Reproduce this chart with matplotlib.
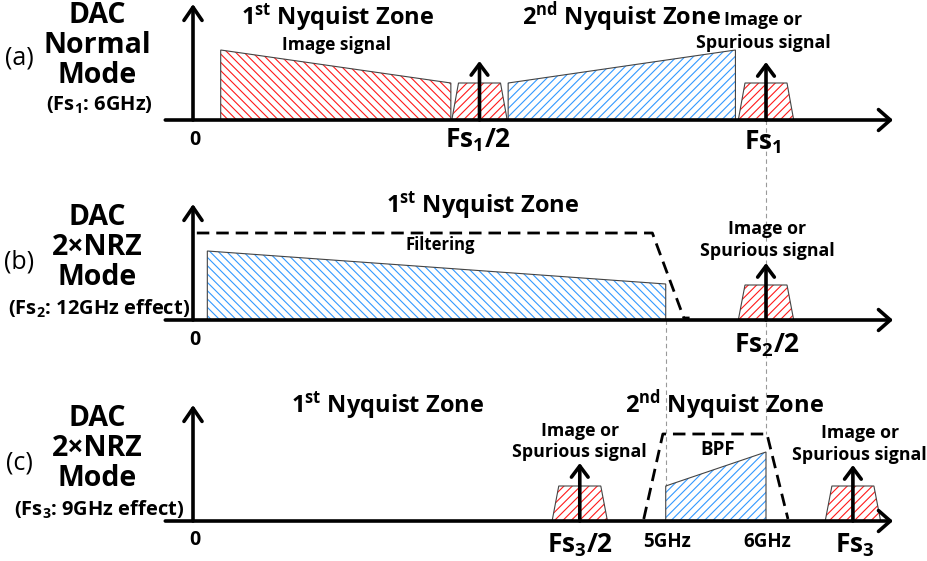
import matplotlib.pyplot as plt
from matplotlib.patches import Polygon

plt.rcParams['font.family'] = ['Open Sans', 'DejaVu Sans']
plt.rcParams['font.weight'] = 'bold'
plt.rcParams['mathtext.fontset'] = 'custom'
plt.rcParams['mathtext.rm'] = 'Open Sans:bold'
plt.rcParams['mathtext.bf'] = 'Open Sans:bold'
plt.rcParams['mathtext.it'] = 'Open Sans:bold'
plt.rcParams['mathtext.default'] = 'rm'
plt.rcParams['hatch.linewidth'] = 0.8

RED = '#ff1a1a'
BLUE = '#3399ff'

# frequency (GHz, schematic) and levels
# (a) normal mode, Fs1 = 6 GHz
a_img_f = [0.29, 2.70]       # image signal, 1st zone
a_img_lv = [70, 37]
a_sig_f = [3.30, 5.68]       # signal, 2nd zone
a_sig_lv = [37, 70]
a_spur_f = [3.0, 6.0]
a_spur_lv = [37, 37]
a_arrow_lv = [59, 58]

# (b) 2xNRZ, Fs2 = 12 GHz effect
b_sig_f = [0.15, 4.95]
b_sig_lv = [69, 36]
b_filt_f = [0.04, 4.81, 5.14, 5.20]
b_filt_lv = [87, 87, 2, 2]
b_spur_f = [6.0]
b_spur_lv = [35]
b_arrow_lv = [57]

# (c) 2xNRZ, Fs3 = 9 GHz effect
c_sig_f = [4.95, 6.0]
c_sig_lv = [35, 69]
c_bpf_f = [4.72, 4.92, 6.01, 6.23]
c_bpf_lv = [2, 87, 87, 2]
c_spur_f = [4.05, 6.91]
c_spur_lv = [35, 35]
c_arrow_lv = [58, 56]

base = {'a': 441, 'b': 241, 'c': 40}

fig = plt.figure(figsize=(9.27, 5.61), dpi=100)
ax = fig.add_axes([0, 0, 1, 1])
ax.set_xlim(-193 / 95.5, (927 - 193) / 95.5)
ax.set_ylim(0, 561)
ax.axis('off')


def hatched(xs, ys, color, hatch):
    ax.add_patch(Polygon(list(zip(xs, ys)), closed=True, facecolor='none',
                         edgecolor=color, lw=0, hatch=hatch, zorder=2))
    ax.add_patch(Polygon(list(zip(xs, ys)), closed=True, facecolor='none',
                         edgecolor='#444444', lw=0.8, zorder=3))


def band(f, lv, y0, color, hatch):
    hatched([f[0], f[0], f[1], f[1]], [y0, y0 + lv[0], y0 + lv[1], y0],
            color, hatch)


def spur(c, lv, y0):
    hatched([c - 0.29, c - 0.22, c + 0.22, c + 0.29],
            [y0, y0 + lv, y0 + lv, y0], RED, '////')


def arrow(x0, y0, x1, y1, lw=2.6, hw=0.6, hl=0.8):
    ax.annotate('', xy=(x1, y1), xytext=(x0, y0),
                arrowprops=dict(arrowstyle='->,head_length=%s,head_width=%s' % (hl, hw),
                                lw=lw, color='black', shrinkA=0, shrinkB=0),
                zorder=5)


def txt(x, y, s, size, **kw):
    ax.text(x, y, s, fontsize=size, ha='center', va='center', **kw)


# grey links between panels
ax.plot([6.0, 6.0], [base['a'], base['c'] + 87], color='#999999', lw=0.8,
        ls=(0, (4, 3)), zorder=1)
ax.plot([4.95, 4.95], [base['b'], base['c'] + 35], color='#999999', lw=0.8,
        ls=(0, (4, 3)), zorder=1)

# axes of every panel
for k in 'abc':
    y0 = base[k]
    arrow(-0.29, y0, 7.33, y0, hw=0.75, hl=0.85)
    arrow(0, y0, 0, y0 + 116, hw=0.65, hl=0.95)

# (a)
y0 = base['a']
band(a_img_f, a_img_lv, y0, RED, '\\\\\\\\')
band(a_sig_f, a_sig_lv, y0, BLUE, '////')
for c, lv, al in zip(a_spur_f, a_spur_lv, a_arrow_lv):
    spur(c, lv, y0)
    arrow(c, y0, c, y0 + al)

# (b)
y0 = base['b']
band(b_sig_f, b_sig_lv, y0, BLUE, '\\\\\\\\')
ax.plot(b_filt_f, [y0 + v for v in b_filt_lv], color='black', lw=2,
        ls=(0, (4.5, 2.5)), zorder=4)
for c, lv, al in zip(b_spur_f, b_spur_lv, b_arrow_lv):
    spur(c, lv, y0)
    arrow(c, y0, c, y0 + al)

# (c)
y0 = base['c']
band(c_sig_f, c_sig_lv, y0, BLUE, '////')
ax.plot(c_bpf_f, [y0 + v for v in c_bpf_lv], color='black', lw=2,
        ls=(0, (4.5, 2.5)), zorder=4)
for c, lv, al in zip(c_spur_f, c_spur_lv, c_arrow_lv):
    spur(c, lv, y0)
    arrow(c, y0, c, y0 + al)

# mode labels on the left
for (k, lines, sub, lab) in [('a', ['DAC', 'Normal', 'Mode'], '(F$s_1$: 6GHz)', '(a)'),
                             ('b', ['DAC', '2×NRZ', 'Mode'], '(F$s_2$: 12GHz effect)', '(b)'),
                             ('c', ['DAC', '2×NRZ', 'Mode'], '(F$s_3$: 9GHz effect)', '(c)')]:
    y0 = base[k]
    top = y0 + 105 if k == 'a' else y0 + 103
    for i, s in enumerate(lines):
        txt(-1.0, top - 30 * i, s, 20.5)
    txt(-0.98, top - 90 - (0 if k == 'a' else 2), sub, 14.5)
    txt(-1.82, top - 45 + (2 if k == 'a' else 0), lab, 18, fontweight='normal')

# zone names and signal labels
txt(1.51, 544, '$1^{st}$ Nyquist Zone', 17)
txt(4.49, 544, '$2^{nd}$ Nyquist Zone', 17)
txt(1.50, 516, 'Image signal', 12.5)
txt(5.97, 541, 'Image or', 12.8)
txt(5.97, 518, 'Spurious signal', 12.8)
txt(0.02, 421, '0', 14)
txt(2.98, 421, 'F$s_1$/2', 19)
txt(5.97, 419, 'F$s_1$', 19)

txt(3.03, 356, '$1^{st}$ Nyquist Zone', 17)
txt(2.59, 316, 'Filtering', 12)
txt(6.01, 332, 'Image or', 12.8)
txt(6.01, 310, 'Spurious signal', 12.8)
txt(0.02, 221, '0', 14)
txt(6.01, 216, 'F$s_2$/2', 19)

txt(2.04, 156, '$1^{st}$ Nyquist Zone', 17)
txt(5.57, 156, '$2^{nd}$ Nyquist Zone', 17)
txt(4.05, 130, 'Image or', 12.8)
txt(4.05, 109, 'Spurious signal', 12.8)
txt(5.49, 111, 'BPF', 13.5)
txt(6.98, 128, 'Image or', 12.8)
txt(6.98, 106, 'Spurious signal', 12.8)
txt(0.02, 21, '0', 14)
txt(4.05, 16, 'F$s_3$/2', 19)
txt(4.96, 19, '5GHz', 13.5)
txt(6.01, 19, '6GHz', 13.5)
txt(6.93, 16, 'F$s_3$', 19)

fig.savefig('out.png', dpi=100)
